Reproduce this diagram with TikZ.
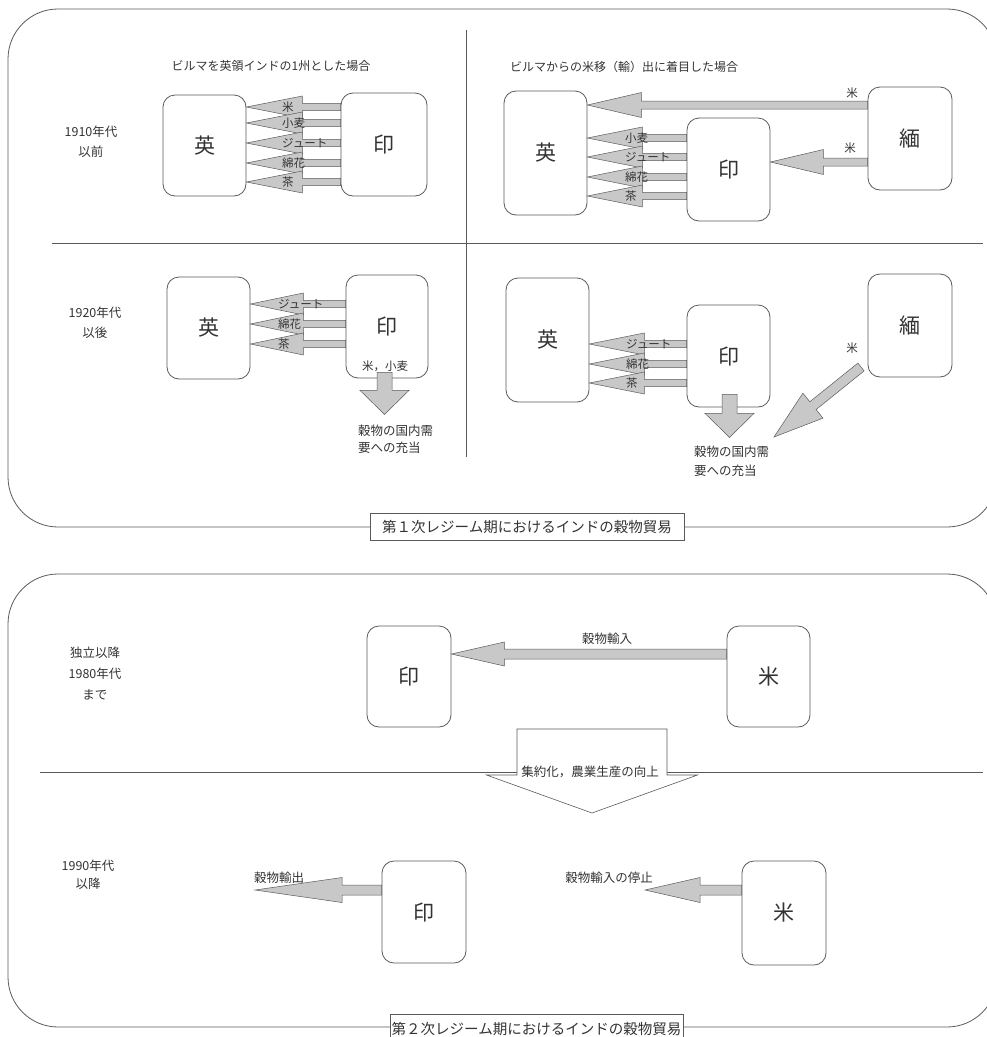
\documentclass[tikz,border=0pt]{standalone}
\usepackage{fontspec}
\setmainfont{Noto Sans CJK JP}
\usetikzlibrary{calc}

\definecolor{linegray}{HTML}{5A5A5A}
\definecolor{arrowgray}{HTML}{C8C8C8}
\definecolor{txtgray}{HTML}{333333}

% block arrow: [style]{from}{tip}{head length}{shaft half width}{head half width}
\newcommand{\fatarrow}[6][arrowbody]{%
  \coordinate (fa) at (#2);
  \coordinate (fb) at (#3);
  \coordinate (fh) at ($(fb)!#4!(fa)$);
  \filldraw[#1] ($(fa)!#5!90:(fb)$) -- ($(fh)!#5!90:(fb)$) -- ($(fh)!#6!90:(fb)$)
    -- (fb) -- ($(fh)!#6!-90:(fb)$) -- ($(fh)!#5!-90:(fb)$) -- ($(fa)!#5!-90:(fb)$) -- cycle;
}

\begin{document}
\begin{tikzpicture}[x=1pt, y=-1pt,
    frame/.style={draw=linegray, line width=0.8pt, rounded corners=50pt},
    divider/.style={draw=linegray, line width=0.9pt},
    country/.style={draw=linegray, fill=white, line width=0.8pt, rounded corners=12pt,
      inner sep=0pt, text=txtgray, font=\fontsize{21pt}{21pt}\selectfont},
    arrowbody/.style={fill=arrowgray, draw=linegray, line width=0.5pt},
    hollow/.style={fill=white, draw=linegray, line width=0.6pt},
    note/.style={text=txtgray, inner sep=0pt, font=\fontsize{12.5pt}{20pt}\selectfont},
    cargo/.style={text=txtgray, inner sep=0pt, anchor=west, font=\fontsize{11.5pt}{12pt}\selectfont},
    caption/.style={draw=linegray, fill=white, line width=0.7pt, inner sep=0pt,
      text=txtgray, font=\fontsize{14.5pt}{15pt}\selectfont}]
    \useasboundingbox (0,0) rectangle (987,1037);

    % frames and dividers
    \draw[frame] (8,9) rectangle (997,527);
    \draw[frame] (8,574) rectangle (997,1027);
    \draw[divider] (52,243) -- (983,243);
    \draw[divider] (466,30) -- (466,457);
    \draw[divider] (40,772) -- (983,772);

    % period labels
    \node[note, align=center] (p1910) at (91,142) {1910年代\\以前};
    \node[note, align=center] (p1920) at (95,323) {1920年代\\以後};
    \node[note, align=center, font=\fontsize{12.5pt}{21pt}\selectfont] (p1980) at (95,674) {独立以降\\1980年代\\まで};
    \node[note, align=center, font=\fontsize{12.5pt}{18pt}\selectfont] (p1990) at (88,875) {1990年代\\以降};

    \node[note, font=\fontsize{12pt}{12pt}\selectfont] (headA) at (271,66) {ビルマを英領インドの1州とした場合};
    \node[note, anchor=west, font=\fontsize{12pt}{12pt}\selectfont] (headB) at (510,67) {ビルマからの米移（輸）出に着目した場合};

    % countries
    \node[country, minimum width=83pt, minimum height=101pt] (enA) at (204.5,145.5) {英};
    \node[country, minimum width=86pt, minimum height=103pt] (inA) at (384,144.5) {印};
    \node[country, minimum width=83pt, minimum height=124pt] (enB) at (545.5,153) {英};
    \node[country, minimum width=83pt, minimum height=103pt] (inB) at (728.5,169.5) {印};
    \node[country, minimum width=84pt, minimum height=103pt] (myB) at (910,138.5) {緬};
    \node[country, minimum width=83pt, minimum height=102pt] (enC) at (208.5,328) {英};
    \node[country, minimum width=82pt, minimum height=103pt] (inC) at (387,326.5) {印};
    \node[country, minimum width=83pt, minimum height=124pt] (enD) at (547.5,340) {英};
    \node[country, minimum width=83pt, minimum height=102pt] (inD) at (728.5,356) {印};
    \node[country, minimum width=84pt, minimum height=103pt] (myD) at (910,325.5) {緬};
    \node[country, minimum width=84pt, minimum height=101pt] (inE) at (409,676.5) {印};
    \node[country, minimum width=83pt, minimum height=101pt] (usE) at (768.5,676.5) {米};
    \node[country, minimum width=84pt, minimum height=102pt] (inF) at (424,912) {印};
    \node[country, minimum width=84pt, minimum height=104pt] (usF) at (784,913) {米};

    % 1910s, Burma as a province
    \foreach \yy in {107,123,143,163,182} {
        \coordinate (r) at (0,\yy);
        \fatarrow{inA.west |- r}{enA.east |- r}{56pt}{3.7pt}{11pt}
    }
    \foreach \lab/\yy in {米/107,小麦/123,ジュート/143,綿花/163,茶/182}
        \node[cargo] (cA-\yy) at (282,\yy) {\lab};

    % 1910s, rice from Burma
    \coordinate (r) at (0,105);
    \fatarrow{myB.west |- r}{enB.east |- r}{54pt}{4pt}{12.5pt}
    \coordinate (r) at (0,162);
    \fatarrow{myB.west |- r}{inB.east |- r}{53pt}{4pt}{12.5pt}
    \node[cargo, anchor=center] (riceB1) at (852,93) {米};
    \node[cargo, anchor=center] (riceB2) at (850,148) {米};
    \foreach \yy in {138,157,177,196} {
        \coordinate (r) at (0,\yy);
        \fatarrow{inB.west |- r}{enB.east |- r}{55pt}{3.7pt}{11pt}
    }
    \foreach \lab/\yy in {小麦/138,ジュート/157,綿花/177,茶/196}
        \node[cargo] (cB-\yy) at (625,\yy) {\lab};

    % 1920s, Burma as a province
    \foreach \yy in {304,324,344} {
        \coordinate (r) at (0,\yy);
        \fatarrow{inC.west |- r}{enC.east |- r}{53pt}{3.7pt}{11pt}
    }
    \foreach \lab/\yy in {ジュート/304,綿花/324,茶/344}
        \node[cargo] (cC-\yy) at (278,\yy) {\lab};
    \fatarrow{$(inC.south)+(-2.5,-6)$}{$(inC.south)+(-2.5,36)$}{24pt}{7.5pt}{24.5pt}
    \node[cargo, anchor=center] (grainC) at (385,366) {米，小麦};
    \node[note, align=left, anchor=north west, font=\fontsize{12.5pt}{17pt}\selectfont] (homeC) at (358,425)
        {穀物の国内需\\要への充当};

    % 1920s, rice from Burma
    \foreach \yy in {344,364,383} {
        \coordinate (r) at (0,\yy);
        \fatarrow{inD.west |- r}{enD.east |- r}{55pt}{3.7pt}{11pt}
    }
    \foreach \lab/\yy in {ジュート/344,綿花/364,茶/383}
        \node[cargo] (cD-\yy) at (626,\yy) {\lab};
    \fatarrow{$(inD.south)+(1,-13)$}{$(inD.south)+(1,30)$}{24pt}{7.5pt}{24.5pt}
    \coordinate (riceD) at (861,367);
    \coordinate (tipD) at (774,437);
    \fatarrow{riceD}{tipD}{50pt}{5pt}{16pt}
    \node[cargo, anchor=center] (riceD1) at (852,348) {米};
    \node[note, align=left, anchor=north west, font=\fontsize{12.5pt}{18.5pt}\selectfont] (homeD) at (694,446)
        {穀物の国内需\\要への充当};

    \node[caption, minimum width=314pt, minimum height=27pt] (capA) at (527,527)
        {第１次レジーム期におけるインドの穀物貿易};

    % second regime
    \coordinate (r) at (0,654);
    \fatarrow{usE.west |- r}{inE.east |- r}{53pt}{5pt}{12pt}
    \node[note] (impE) at (607,639) {穀物輸入};
    \coordinate (hs) at (592,729);
    \coordinate (ht) at (592,813);
    \fatarrow[hollow]{hs}{ht}{38pt}{75pt}{105.5pt}
    \node[note, fill=white, inner sep=1.5pt] (upE) at (590,772) {集約化，農業生産の向上};

    \coordinate (r) at (0,890);
    \coordinate (expF) at (255,890);
    \coordinate (stopF) at (645,890);
    \fatarrow{inF.west |- r}{expF}{87pt}{5pt}{12.5pt}
    \fatarrow{usF.west |- r}{stopF}{55pt}{5pt}{12.5pt}
    \node[note] (expL) at (279,878) {穀物輸出};
    \node[note] (stopL) at (609,878) {穀物輸入の停止};

    \node[caption, minimum width=293pt, minimum height=30pt] (capB) at (536.5,1029)
        {第２次レジーム期におけるインドの穀物貿易};
\end{tikzpicture}
\end{document}
